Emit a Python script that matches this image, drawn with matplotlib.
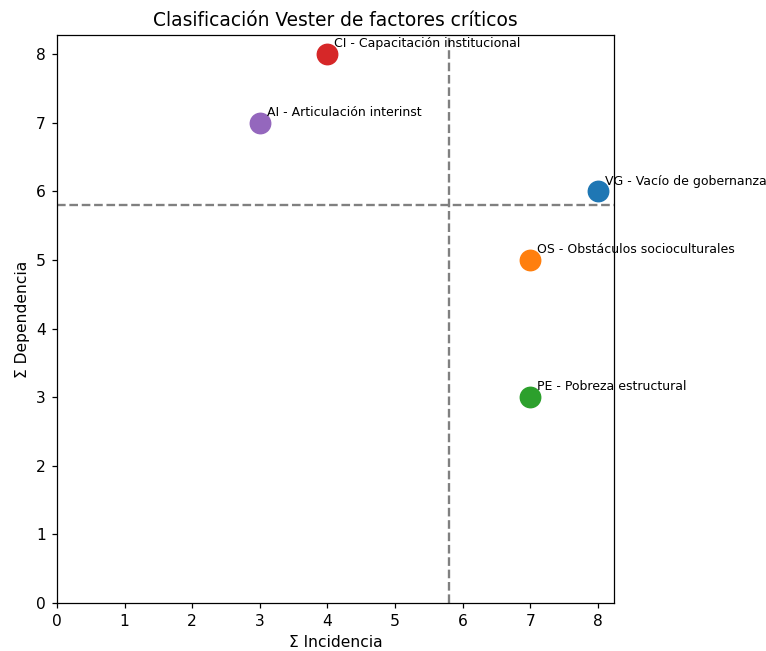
import matplotlib
matplotlib.use("Agg")
import matplotlib.pyplot as plt

# Factores criticos (Vester)
codes = ['VG', 'OS', 'PE', 'CI', 'AI']
names = ['Vacío de gobernanza', 'Obstáculos socioculturales', 'Pobreza estructural',
         'Capacitación institucional', 'Articulación interinst']
incidencia = [8, 7, 7, 4, 3]
dependencia = [6, 5, 3, 8, 7]
colors = ['tab:blue', 'tab:orange', 'tab:green', 'tab:red', 'tab:purple']

DPI = 112
fig = plt.figure(figsize=(766 / DPI, 651 / DPI), dpi=DPI)
ax = fig.add_axes([0.0744, 0.0737, 0.7272, 0.8725])

for code, name, x, y, c in zip(codes, names, incidencia, dependencia, colors):
    ax.scatter(x, y, s=170, color=c, zorder=3)
    ax.text(x + 0.1, y + 0.1, f'{code} - {name}', fontsize=8)

mx = sum(incidencia) / len(incidencia)
my = sum(dependencia) / len(dependencia)
ax.axvline(mx, color='gray', linestyle='--')
ax.axhline(my, color='gray', linestyle='--')

ax.set_xlim(0, 8.24)
ax.set_ylim(0, 8.28)
ax.set_xlabel('Σ Incidencia')
ax.set_ylabel('Σ Dependencia')
ax.set_title('Clasificación Vester de factores críticos')

fig.savefig('out.png', dpi=DPI)
